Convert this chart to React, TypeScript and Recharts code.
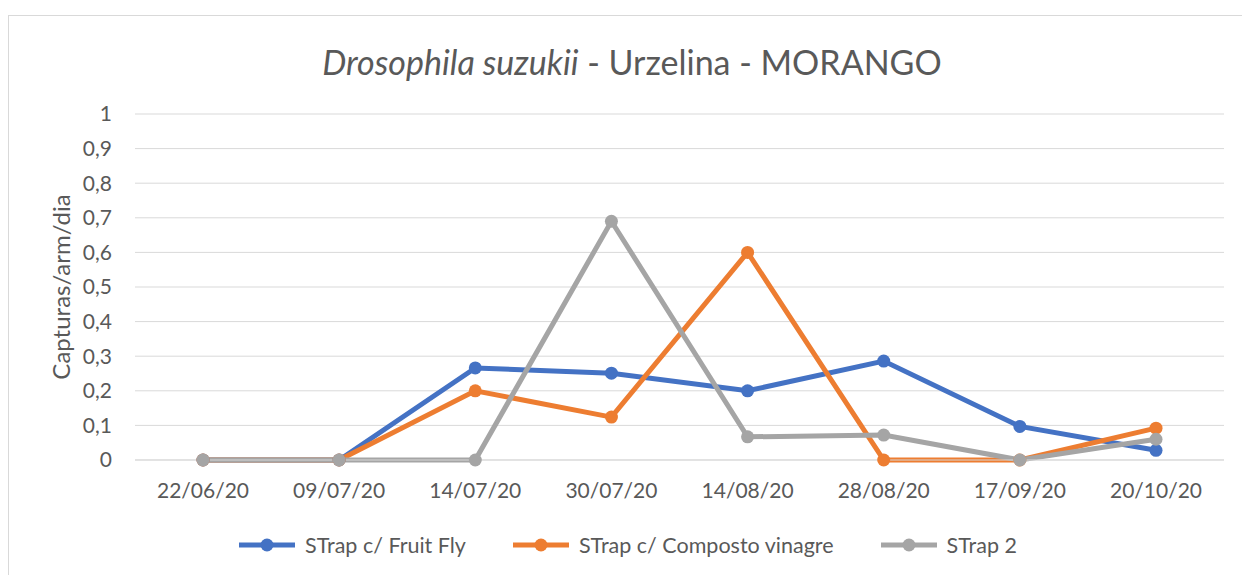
import React from "react";
import { LineChart, Line, XAxis, YAxis, CartesianGrid } from "recharts";

const categories = ["22/06/20", "09/07/20", "14/07/20", "30/07/20", "14/08/20", "28/08/20", "17/09/20", "20/10/20"];
const fruitFly = [0, 0, 0.266, 0.251, 0.2, 0.286, 0.097, 0.028];
const compostoVinagre = [0, 0, 0.2, 0.124, 0.6, 0, 0, 0.092];
const strap2 = [0, 0, 0, 0.69, 0.067, 0.072, 0, 0.06];
const yTicks = [0, 0.1, 0.2, 0.3, 0.4, 0.5, 0.6, 0.7, 0.8, 0.9, 1];

const seriesNames = ["STrap c/ Fruit Fly", "STrap c/ Composto vinagre", "STrap 2"];
const seriesKeys = ["fruitFly", "composto", "strap2"];
const seriesColors = ["#4472C4", "#ED7D31", "#A5A5A5"];

const data = categories.map((c, i) => ({
  date: c,
  fruitFly: fruitFly[i],
  composto: compostoVinagre[i],
  strap2: strap2[i],
}));

const FONT = "Lato, 'Open Sans', sans-serif";
const TXT = "#595959";

export default function App() {
  return (
    <div style={{ position: "fixed", left: 0, top: 0, width: 1242, height: 575, background: "#fff", overflow: "hidden", fontFamily: FONT }}>
      <div style={{ position: "absolute", left: 8, top: 15, width: 1300, height: 700, border: "1px solid #d9d9d9", boxSizing: "border-box" }} />
      <div style={{ position: "absolute", left: 0, width: 1264, top: 40, textAlign: "center", fontSize: 34, color: TXT, lineHeight: "44px" }}>
        <i>Drosophila suzukii</i> - Urzelina - MORANGO
      </div>
      <div style={{ position: "absolute", left: 60, top: 287, transform: "translate(-50%, -50%) rotate(-90deg)", fontSize: 24, color: TXT, whiteSpace: "nowrap" }}>
        Capturas/arm/dia
      </div>
      <div style={{ position: "absolute", left: 0, top: 0 }}>
        <LineChart width={1242} height={575} data={data} margin={{ top: 114, right: 18, bottom: 85, left: 75 }}>
          <CartesianGrid vertical={false} stroke="#d9d9d9" strokeWidth={1} />
          <XAxis
            dataKey="date"
            height={30}
            tickLine={false}
            tickSize={0}
            tickMargin={23}
            padding={{ left: 68, right: 68 }}
            axisLine={{ stroke: "#d9d9d9" }}
            tick={{ fill: TXT, fontSize: 21, fontFamily: FONT }}
            interval={0}
          />
          <YAxis
            width={60}
            domain={[0, 1]}
            ticks={yTicks}
            tickLine={false}
            tickSize={0}
            tickMargin={23}
            axisLine={false}
            tick={{ fill: TXT, fontSize: 21, fontFamily: FONT }}
            tickFormatter={(v: number) => String(v).replace(".", ",")}
            interval={0}
          />
          {seriesKeys.map((k, i) => (
            <Line
              key={k}
              dataKey={k}
              type="linear"
              stroke={seriesColors[i]}
              strokeWidth={5}
              dot={{ r: 6.5, fill: seriesColors[i], stroke: seriesColors[i], strokeWidth: 0 }}
              activeDot={false}
              isAnimationActive={false}
            />
          ))}
        </LineChart>
      </div>
      <div style={{ position: "absolute", left: 0, width: 1256, top: 531, display: "flex", justifyContent: "center", alignItems: "center" }}>
        {seriesNames.map((n, i) => (
          <div key={n} style={{ display: "flex", alignItems: "center", marginLeft: i === 0 ? 0 : 47 }}>
            <svg width={56} height={16} style={{ display: "block" }}>
              <line x1={0} y1={8} x2={56} y2={8} stroke={seriesColors[i]} strokeWidth={5} />
              <circle cx={28} cy={8} r={6.5} fill={seriesColors[i]} />
            </svg>
            <span style={{ marginLeft: 10, fontSize: 21.5, color: TXT, lineHeight: "28px" }}>{n}</span>
          </div>
        ))}
      </div>
    </div>
  );
}
